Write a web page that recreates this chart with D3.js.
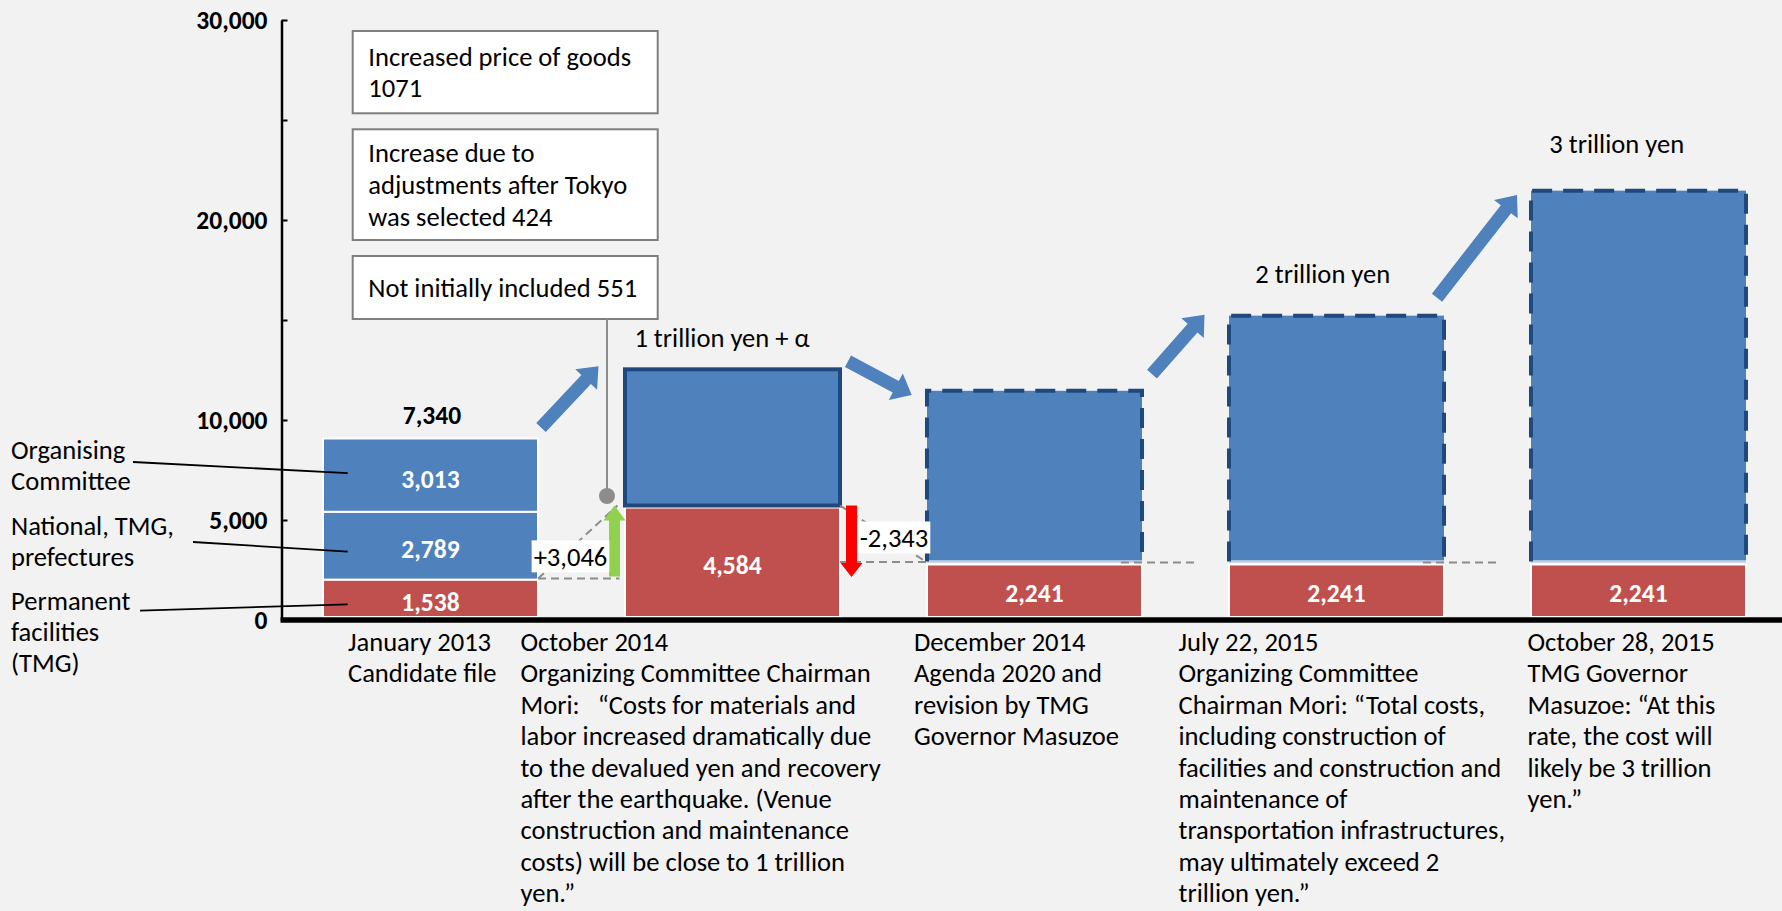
<!DOCTYPE html>
<html><head><meta charset="utf-8">
<script src="https://cdn.jsdelivr.net/npm/d3@7"></script>
<style>
html,body{margin:0;padding:0;background:#F2F2F2;}
svg{display:block;}
</style></head>
<body><svg id="chart" width="1782" height="911"></svg>
<script>
// ---------------- DATA ----------------
const categories = ["January 2013", "October 2014", "December 2014", "July 22, 2015", "October 28, 2015"];
const categoryNotes = [
  ["January 2013", "Candidate file"],
  ["October 2014", "Organizing Committee Chairman", "Mori:   \u201cCosts for materials and", "labor increased dramatically due", "to the devalued yen and recovery", "after the earthquake. (Venue", "construction and maintenance", "costs) will be close to 1 trillion", "yen.\u201d"],
  ["December 2014", "Agenda 2020 and", "revision by TMG", "Governor Masuzoe"],
  ["July 22, 2015", "Organizing Committee", "Chairman Mori: \u201cTotal costs,", "including construction of", "facilities and construction and", "maintenance of", "transportation infrastructures,", "may ultimately exceed 2", "trillion yen.\u201d"],
  ["October 28, 2015", "TMG Governor", "Masuzoe: \u201cAt this", "rate, the cost will", "likely be 3 trillion", "yen.\u201d"]
];
const permanentFacilities   = [1538, 4584, 2241, 2241, 2241];
const nationalTmgPrefectures = [2789, null, null, null, null];
const organisingCommittee   = [3013, null, null, null, null];
const otherCosts            = [null, 5600, 7060, 10150, 15290];
const totalLabels = ["7,340", "1 trillion yen + \u03b1", "", "2 trillion yen", "3 trillion yen"];
const changeValues = [3046, -2343];
const changeLabels = ["+3,046", "-2,343"];
const breakdownLabels = [["Increased price of goods", "1071"], ["Increase due to", "adjustments after Tokyo", "was selected 424"], ["Not initially included 551"]];
const seriesNames = [["Organising", "Committee"], ["National, TMG,", "prefectures"], ["Permanent", "facilities", "(TMG)"]];
const yTickValues = [0, 5000, 10000, 15000, 20000, 25000, 30000];
const yTickLabels = ["0", "5,000", "10,000", "", "20,000", "", "30,000"];

// ---------------- LAYOUT / STYLE ----------------
const W = 1782, H = 911;
const FONT = "Carlito, Lato, 'Open Sans', sans-serif";
const C = {blue: "#4F81BD", dark: "#1F497D", red: "#C0504D", green: "#92D050", redArrow: "#FF0000", gray: "#8C8C8C", box: "#7F7F7F"};
const borderStyle = ["none", "solid", "dashed", "dashed", "dashed"];
const noteDx = [25, -104.5, -13, -50.5, -3.5];
const noteTop = 651, noteLineH = 31.4;
const totalDx = [1.5, -10.5, 0, -13.7, -21.8];
const totalDy = [-23, -32, 0, -42.4, -47.4];
const arrowLayout = [ // tail offset from (bar right, bar top); tip offset from (next bar left, next bar top)
  {tail: [3, -11], tip: [-26.5, -3]},
  {tail: [8, -8], tip: [-15.3, 4.3]},
  {tail: [10, -16.7], tip: [-24.5, -1]},
  {tail: [-7, -18], tip: [-14, 4.3]}
];

const svg = d3.select("#chart");
svg.append("rect").attr("width", W).attr("height", H).attr("fill", "#F2F2F2");

function fitSize(text, weight, target) {
  const t = svg.append("text").attr("font-family", FONT).attr("font-weight", weight).attr("font-size", 100).text(text);
  const w = t.node().getComputedTextLength(); t.remove();
  return 100 * target / w;
}
const FS = fitSize("Increased price of goods", 400, 263);
const FSB = fitSize("5,000", 700, 58.3);

// ---------------- SCALES ----------------
const x = d3.scaleBand().domain(categories).range([279.5, 1789.5]).paddingInner(0.288).paddingOuter(0.144);
const bw = x.bandwidth();
const yAxisScale = d3.scaleLinear().domain([0, 30000]).range([620, 20]);
const yBar = d3.scaleLinear().domain([0, 25000]).range([617, 9]);

// stacks
const seriesArrays = [[permanentFacilities, "red"], [nationalTmgPrefectures, "blue"], [organisingCommittee, "blue"], [otherCosts, "blue"]];
const stacks = categories.map((c, i) => {
  const segs = []; let base = 0;
  seriesArrays.forEach(([arr, kind], j) => {
    const v = arr[i]; if (v == null) return;
    segs.push({cat: c, i, j, kind, y0: base, y1: base + v, v}); base += v;
  });
  return {cat: c, i, segs, total: base};
});

// ---------------- AXES ----------------
const axisX = 281.5;
const gY = svg.append("g").attr("transform", `translate(${axisX},0)`)
  .call(d3.axisLeft(yAxisScale).tickValues(yTickValues).tickFormat((d, i) => yTickLabels[i]).tickSizeInner(-6).tickSizeOuter(0).tickPadding(14));
gY.select(".domain").attr("stroke", "#000").attr("stroke-width", 2.5);
gY.selectAll(".tick line").attr("stroke", "#000").attr("stroke-width", 2);
gY.selectAll(".tick text").attr("font-family", FONT).attr("font-weight", 700).attr("font-size", FSB).attr("fill", "#000").attr("dy", "0.35em");

// ---------------- BARS ----------------
const gBars = svg.append("g");
stacks.forEach(st => {
  const x0 = x(st.cat);
  st.segs.forEach(s => {
    if (s.kind === "red") {
      const top = yBar(s.y1) + (st.i > 0 ? 2 : 0);
      gBars.append("rect").attr("x", x0).attr("width", bw).attr("y", top).attr("height", yBar(0) - top)
        .attr("fill", C.red).attr("stroke", "#fff").attr("stroke-width", 2);
    }
  });
  st.segs.forEach(s => {
    if (s.kind !== "blue") return;
    const style = borderStyle[st.i];
    const top = yBar(s.y1), bot = yBar(s.y0);
    if (style === "none") {
      gBars.append("rect").attr("x", x0).attr("width", bw).attr("y", top).attr("height", bot - top)
        .attr("fill", C.blue).attr("stroke", "#fff").attr("stroke-width", 2);
    } else if (style === "solid") {
      gBars.append("rect").attr("x", x0).attr("width", bw).attr("y", top).attr("height", bot - top)
        .attr("fill", C.blue).attr("stroke", C.dark).attr("stroke-width", 4);
    } else {
      gBars.append("rect").attr("x", x0).attr("width", bw).attr("y", top).attr("height", bot - 1 - top).attr("fill", C.blue);
      gBars.append("line").attr("x1", x0).attr("x2", x0 + bw).attr("y1", bot - 1.5).attr("y2", bot - 1.5).attr("stroke", "#fff").attr("stroke-width", 1);
      gBars.append("line").attr("x1", x0).attr("x2", x0 + bw).attr("y1", bot - 0.5).attr("y2", bot - 0.5).attr("stroke", "#A7C0DE").attr("stroke-width", 1);
      gBars.append("path").attr("d", `M${x0},${bot - 1}V${top}H${x0 + bw}V${bot - 1}`)
        .attr("fill", "none").attr("stroke", C.dark).attr("stroke-width", 4).attr("stroke-dasharray", "20,11");
    }
  });
});

// x axis line
svg.append("line").attr("x1", axisX - 1).attr("x2", W).attr("y1", yAxisScale(0)).attr("y2", yAxisScale(0))
  .attr("stroke", "#000").attr("stroke-width", 5.5);

// ---------------- WATERFALL CONNECTORS ----------------
const gDash = svg.append("g").attr("stroke", C.gray).attr("stroke-width", 2).attr("stroke-dasharray", "8,5").attr("fill", "none");
const bar0R = x(categories[0]) + bw, bar1L = x(categories[1]), bar1R = x(categories[1]) + bw, bar2L = x(categories[2]);
const greenX = bar1L - 10.5, redX = bar1R + 11.5;
const lv0 = yBar(permanentFacilities[0]) - 1, lv1 = yBar(permanentFacilities[1]), lv2 = yBar(permanentFacilities[2]);
gDash.append("line").attr("x1", bar0R).attr("x2", greenX + 5).attr("y1", lv0).attr("y2", lv0);
gDash.append("line").attr("x1", bar0R).attr("x2", greenX + 3).attr("y1", lv0).attr("y2", lv1);
gDash.append("line").attr("x1", bar1R).attr("x2", bar2L).attr("y1", lv1).attr("y2", lv2);
gDash.append("line").attr("x1", bar1R).attr("x2", bar2L).attr("y1", lv2 - 0.5).attr("y2", lv2 - 0.5);
[2, 3].forEach(i => {
  const r = x(categories[i]) + bw;
  const lv = yBar(permanentFacilities[i]);
  gDash.append("line").attr("x1", r - 21).attr("x2", r + 57).attr("y1", lv).attr("y2", lv);
});

// ---------------- CHANGE ARROWS ----------------
function vArrow(cx, yFrom, yTo, sw, hw, hl) {
  const d = yTo < yFrom ? -1 : 1;
  const hb = yTo - d * hl;
  return d3.line()([[cx - sw / 2, yFrom], [cx - sw / 2, hb], [cx - hw / 2, hb], [cx, yTo], [cx + hw / 2, hb], [cx + sw / 2, hb], [cx + sw / 2, yFrom]]) + "Z";
}
svg.append("path").attr("d", vArrow(greenX, yBar(permanentFacilities[0]) - 3, yBar(permanentFacilities[0] + changeValues[0]), 11, 22, 15)).attr("fill", C.green);
svg.append("path").attr("d", vArrow(redX, yBar(permanentFacilities[1]), yBar(permanentFacilities[1] + changeValues[1]) + 14.5, 11, 22, 14)).attr("fill", C.redArrow);

function labelBox(cx, cy, text) {
  const g = svg.append("g");
  const r = g.append("rect").attr("fill", "#fff");
  const t = g.append("text").attr("x", cx).attr("y", cy).attr("dy", "0.35em").attr("text-anchor", "middle")
    .attr("font-family", FONT).attr("font-size", FS).attr("fill", "#000").text(text);
  const w = t.node().getComputedTextLength() + 4;
  r.attr("x", cx - w / 2).attr("width", w).attr("y", cy - 16).attr("height", 32);
}
labelBox(greenX - 44, (yBar(permanentFacilities[0]) + yBar(permanentFacilities[1])) / 2 + 13.8, changeLabels[0]);
labelBox(redX + 42.5, (yBar(permanentFacilities[1]) + yBar(permanentFacilities[2])) / 2 + 3.5, changeLabels[1]);

// ---------------- BLUE BLOCK ARROWS ----------------
function blockArrow(x1, y1, x2, y2, sw, hw, hl) {
  const dx = x2 - x1, dy = y2 - y1, L = Math.hypot(dx, dy), ux = dx / L, uy = dy / L, px = -uy, py = ux;
  const bx = x2 - ux * hl, by = y2 - uy * hl;
  return d3.line()([[x1 + px * sw / 2, y1 + py * sw / 2], [bx + px * sw / 2, by + py * sw / 2], [bx + px * hw / 2, by + py * hw / 2], [x2, y2],
    [bx - px * hw / 2, by - py * hw / 2], [bx - px * sw / 2, by - py * sw / 2], [x1 - px * sw / 2, y1 - py * sw / 2]]) + "Z";
}
arrowLayout.forEach((a, i) => {
  const r = x(categories[i]) + bw, t = yBar(stacks[i].total);
  const l = x(categories[i + 1]), t2 = yBar(stacks[i + 1].total);
  svg.append("path").attr("d", blockArrow(r + a.tail[0], t + a.tail[1], l + a.tip[0], t2 + a.tip[1], 13, 30, 18)).attr("fill", C.blue);
});

// ---------------- BREAKDOWN BOXES ----------------
const boxX = 352.7, boxW = 305, boxTops = [31, 129.3, 256], boxHs = [82.3, 110.7, 63], lineH = 31.7;
breakdownLabels.forEach((lines, k) => {
  svg.append("rect").attr("x", boxX).attr("y", boxTops[k]).attr("width", boxW).attr("height", boxHs[k])
    .attr("fill", "#fff").attr("stroke", C.box).attr("stroke-width", 2);
  const cy = boxTops[k] + boxHs[k] / 2;
  lines.forEach((ln, m) => {
    svg.append("text").attr("x", boxX + 15.6).attr("y", cy + (m - (lines.length - 1) / 2) * lineH).attr("dy", "0.35em")
      .attr("font-family", FONT).attr("font-size", FS).attr("fill", "#000").text(ln);
  });
});
const dotX = bar1L - 18, dotY = yBar(permanentFacilities[1]) - 9.5;
svg.append("line").attr("x1", dotX).attr("x2", dotX).attr("y1", boxTops[2] + boxHs[2]).attr("y2", dotY).attr("stroke", C.gray).attr("stroke-width", 2);
svg.append("circle").attr("cx", dotX).attr("cy", dotY).attr("r", 8).attr("fill", C.gray);

// ---------------- TEXT LABELS ----------------
const fmt = d3.format(",");
stacks.forEach(st => {
  const cx = x(st.cat) + bw / 2;
  st.segs.forEach(s => {
    if (s.kind === "blue" && st.i > 0) return;
    svg.append("text").attr("x", cx).attr("y", (yBar(s.y0) + yBar(s.y1)) / 2 + 3.5).attr("dy", "0.35em").attr("text-anchor", "middle")
      .attr("font-family", FONT).attr("font-weight", 700).attr("font-size", FSB).attr("fill", "#fff").text(fmt(s.v));
  });
  if (totalLabels[st.i]) {
    svg.append("text").attr("x", cx + totalDx[st.i]).attr("y", yBar(st.total) + totalDy[st.i]).attr("dy", "0.35em").attr("text-anchor", "middle")
      .attr("font-family", FONT).attr("font-weight", st.i === 0 ? 700 : 400).attr("font-size", st.i === 0 ? FSB : FS).attr("fill", "#000").text(totalLabels[st.i]);
  }
});

// category notes
categoryNotes.forEach((lines, i) => {
  const t = svg.append("text").attr("font-family", FONT).attr("font-size", FS).attr("fill", "#000");
  lines.forEach((ln, m) => {
    t.append("tspan").attr("x", x(categories[i]) + noteDx[i]).attr("y", noteTop + m * noteLineH).text(ln);
  });
});
svg.selectAll("text").style("white-space", "pre");

// series names + leader lines
const nameBaselines = [[459, 490], [535, 566], [610, 641, 672]];
const leaderStart = [[133, 462], [193, 542], [140, 610.7]];
const leaderSeg = [2, 1, 0], leaderDy = [-2, 6, 6];
seriesNames.forEach((lines, k) => {
  lines.forEach((ln, m) => {
    svg.append("text").attr("x", 11).attr("y", nameBaselines[k][m]).attr("font-family", FONT).attr("font-size", FS).attr("fill", "#000").text(ln);
  });
  const s = stacks[0].segs[leaderSeg[k]];
  svg.append("line").attr("x1", leaderStart[k][0]).attr("y1", leaderStart[k][1])
    .attr("x2", x(categories[0]) + 24.7).attr("y2", (yBar(s.y0) + yBar(s.y1)) / 2 + leaderDy[k])
    .attr("stroke", "#000").attr("stroke-width", 1.8);
});
</script>
</body></html>
